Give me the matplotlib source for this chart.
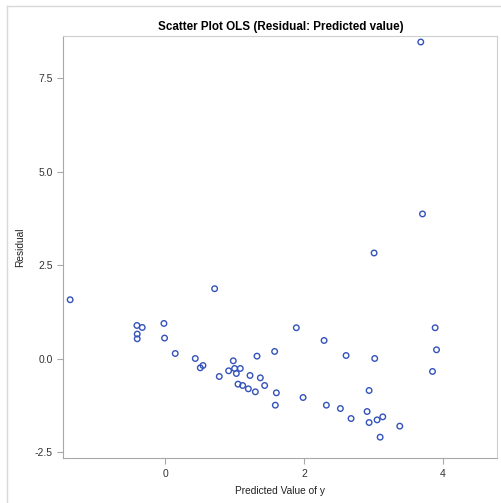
import matplotlib
matplotlib.use("Agg")
import matplotlib.pyplot as plt
from matplotlib.lines import Line2D

plt.rcParams['font.family'] = ['Liberation Sans', 'DejaVu Sans']

# predicted values and residuals
predicted = [-1.371, -0.408, -0.332, -0.404, -0.404, -0.019, -0.010, 0.144,
             0.433, 0.544, 0.505, 0.779, 0.981, 0.914, 1.000, 1.082, 1.025,
             1.049, 1.116, 1.198, 1.299, 1.222, 1.323, 1.371, 1.433, 1.577,
             1.602, 1.587, 1.890, 2.290, 2.607, 3.020, 3.891, 3.911, 3.853,
             2.939, 1.987, 2.323, 2.525, 2.910, 2.679, 2.939, 3.054, 3.136,
             3.381, 3.098, 0.712, 3.684, 3.709, 3.011]
residual = [1.579, 0.891, 0.838, 0.661, 0.535, 0.945, 0.554, 0.142,
            0.008, -0.179, -0.241, -0.473, -0.054, -0.321, -0.259, -0.259, -0.393,
            -0.678, -0.714, -0.803, -0.883, -0.446, 0.071, -0.509, -0.714, 0.196,
            -0.910, -1.240, 0.830, 0.490, 0.088, 0.008, 0.830, 0.241, -0.339,
            -0.848, -1.035, -1.240, -1.330, -1.410, -1.597, -1.704, -1.633, -1.552,
            -1.801, -2.096, 1.874, 8.470, 3.873, 2.829]

x_ticks = [0, 2, 4]
y_ticks = [-2.5, 0.0, 2.5, 5.0, 7.5]

fig = plt.figure(figsize=(5.01, 5.03), dpi=100)
ax = fig.add_axes([0.1263, 0.0889, 0.8667, 0.8395])

ax.scatter(predicted, residual, s=16, facecolors='none', edgecolors='#3352bb',
           linewidths=1.0, zorder=3)

ax.set_xlim(-1.47, 4.79)
ax.set_ylim(-2.66, 8.63)
ax.set_xticks(x_ticks)
ax.set_xticklabels([str(t) for t in x_ticks])
ax.set_yticks(y_ticks)
ax.set_yticklabels([f"{t:.1f}" for t in y_ticks])

for side in ['left', 'bottom']:
    ax.spines[side].set_color('#a8a8a8')
for side in ['top', 'right']:
    ax.spines[side].set_color('#cfcfcf')
ax.tick_params(colors='#a8a8a8', labelcolor='#333333', labelsize=7.5, length=4, width=0.8)

ax.set_title('Scatter Plot OLS (Residual: Predicted value)', fontsize=8.4,
             fontweight='bold', pad=4)
ax.set_xlabel('Predicted Value of y', fontsize=7.3, color='#222222', labelpad=5)
ax.set_ylabel('Residual', fontsize=7.3, color='#222222', labelpad=7)

# outer border lines of the output frame
fig.add_artist(Line2D([7 / 501, 1], [1 - 6 / 503, 1 - 6 / 503],
                      color='#d8d8d8', lw=1.0, transform=fig.transFigure))
fig.add_artist(Line2D([7 / 501, 7 / 501], [0, 1 - 6 / 503],
                      color='#d8d8d8', lw=1.0, transform=fig.transFigure))

fig.savefig('out.png', dpi=100)
